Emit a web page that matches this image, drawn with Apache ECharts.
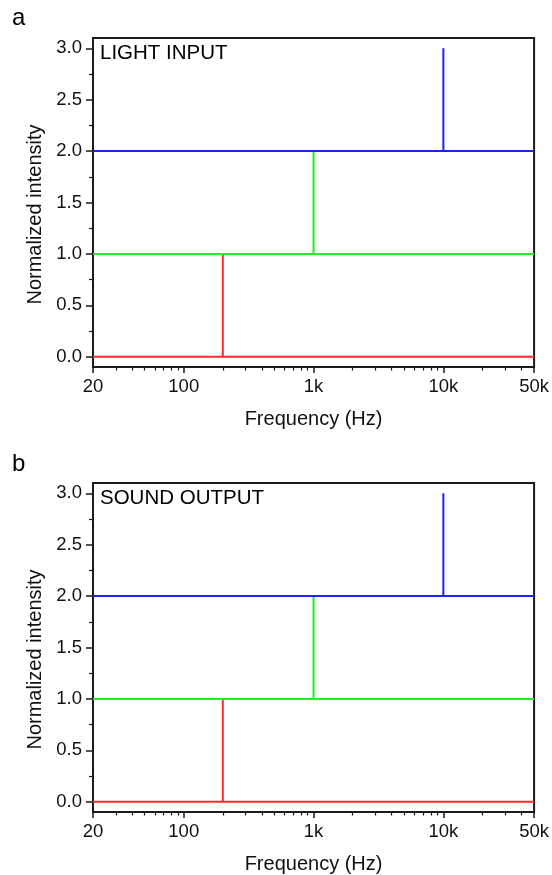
<!DOCTYPE html>
<html><head><meta charset="utf-8">
<script src="https://cdn.jsdelivr.net/npm/echarts@6/dist/echarts.min.js"></script>
<style>html,body{margin:0;padding:0;background:#fff}#c{width:552px;height:875px}</style>
</head><body><div id="c"></div><script>
// ---- data ----
const xTickValues = [20, 100, 1000, 10000, 50000];
const xTickLabels = ['20', '100', '1k', '10k', '50k'];
const xMinorTicks = [30,40,50,60,70,80,90,200,300,400,500,600,700,800,900,2000,3000,4000,5000,6000,7000,8000,9000,20000,30000,40000];
const yTickValues = [0, 0.5, 1, 1.5, 2, 2.5, 3];
const yMinorTicks = [0.25, 0.75, 1.25, 1.75, 2.25, 2.75];
const panelLetters = ['a', 'b'];
const panelTitles = ['LIGHT INPUT', 'SOUND OUTPUT'];
const xAxisTitle = 'Frequency (Hz)';
const yAxisTitle = 'Normalized intensity';
// light input (panel a)
const lightRed   = [[20,0],[200,0],[200,1],[200,0],[50000,0]];
const lightGreen = [[20,1],[1000,1],[1000,2],[1000,1],[50000,1]];
const lightBlue  = [[20,2],[10000,2],[10000,3],[10000,2],[50000,2]];
// sound output (panel b)
const soundRed   = [[20,0],[200,0],[200,1],[200,0],[50000,0]];
const soundGreen = [[20,1],[1000,1],[1000,2],[1000,1],[50000,1]];
const soundBlue  = [[20,2],[10000,2],[10000,3],[10000,2],[50000,2]];

const FONT = "'Liberation Sans', Arial, Helvetica, sans-serif";
const AX = '#1a1a1a';
const chart = echarts.init(document.getElementById('c'), null, {renderer: 'canvas'});

const grids = [
  {left: 93, width: 442, top: 38, height: 329},
  {left: 93, width: 442, top: 483, height: 329}
];
const xAxes = [], yAxes = [], series = [];
grids.forEach((g, i) => {
  xAxes.push({
    type: 'log', gridIndex: i, position: 'bottom', min: 20, max: 50000, logBase: 10,
    axisLine: {show: true, onZero: false, lineStyle: {color: AX, width: 2}},
    axisTick: {show: true, inside: false, length: 6, lineStyle: {color: AX, width: 1.5}, customValues: xTickValues},
    axisLabel: {show: true, margin: 10, color: '#111', fontFamily: FONT, fontSize: 18.5,
      customValues: xTickValues,
      formatter: v => { const k = xTickValues.findIndex(t => Math.abs(t - v) / t < 1e-6); return k >= 0 ? xTickLabels[k] : ''; }},
    splitLine: {show: false}, minorTick: {show: false},
    name: xAxisTitle, nameLocation: 'middle', nameGap: 42,
    nameTextStyle: {color: '#111', fontFamily: FONT, fontSize: 20}
  });
  xAxes.push({
    type: 'log', gridIndex: i, position: 'bottom', offset: 0, min: 20, max: 50000, logBase: 10,
    axisLine: {show: false, onZero: false},
    axisTick: {show: true, inside: false, length: 3.5, lineStyle: {color: AX, width: 1.2}, customValues: xMinorTicks},
    axisLabel: {show: false},
    splitLine: {show: false}
  });
  yAxes.push({
    type: 'value', gridIndex: i, position: 'left', min: -0.1, max: 3.1,
    axisLine: {show: true, onZero: false, lineStyle: {color: AX, width: 2}},
    axisTick: {show: true, inside: false, length: 7, lineStyle: {color: AX, width: 1.5}, customValues: yTickValues},
    axisLabel: {show: true, margin: 11, color: '#111', fontFamily: FONT, fontSize: 18.5,
      customValues: yTickValues, formatter: v => Number(v).toFixed(1)},
    splitLine: {show: false},
    name: yAxisTitle, nameLocation: 'middle', nameGap: 47, nameRotate: 90,
    nameTextStyle: {color: '#111', fontFamily: FONT, fontSize: 20, padding: [0, 24, 0, 0]}
  });
  yAxes.push({
    type: 'value', gridIndex: i, position: 'left', offset: 0, min: -0.1, max: 3.1,
    axisLine: {show: false, onZero: false},
    axisTick: {show: true, inside: false, length: 4, lineStyle: {color: AX, width: 1.2}, customValues: yMinorTicks},
    axisLabel: {show: false},
    splitLine: {show: false}
  });
});

const panelData = [[lightRed, lightGreen, lightBlue], [soundRed, soundGreen, soundBlue]];
const colors = ['#ff2b2b', '#22ee22', '#1f1fff'];
panelData.forEach((sets, i) => {
  sets.forEach((d, j) => {
    series.push({
      type: 'line', xAxisIndex: i * 2, yAxisIndex: i * 2, data: d,
      showSymbol: false, symbol: 'none', animation: false, z: 3 + j,
      lineStyle: {color: colors[j], width: 2}
    });
  });
});

const graphics = [];
const letterY = [19, 465];
const titleY = [54, 499];
panelLetters.forEach((t, i) => {
  graphics.push({type: 'text', left: 12, top: letterY[i] - 13,
    style: {text: t, font: '400 24px ' + FONT, fill: '#000'}});
});
panelTitles.forEach((t, i) => {
  graphics.push({type: 'text', left: 100, top: titleY[i] - 11.5,
    style: {text: t, font: '400 20.5px ' + FONT, fill: '#000'}});
});

chart.setOption({
  animation: false,
  backgroundColor: '#fff',
  grid: grids.map(g => Object.assign({show: true, borderColor: AX, borderWidth: 2, backgroundColor: 'transparent', containLabel: false}, g)),
  xAxis: xAxes, yAxis: yAxes, series: series, graphic: graphics
});
</script></body></html>
